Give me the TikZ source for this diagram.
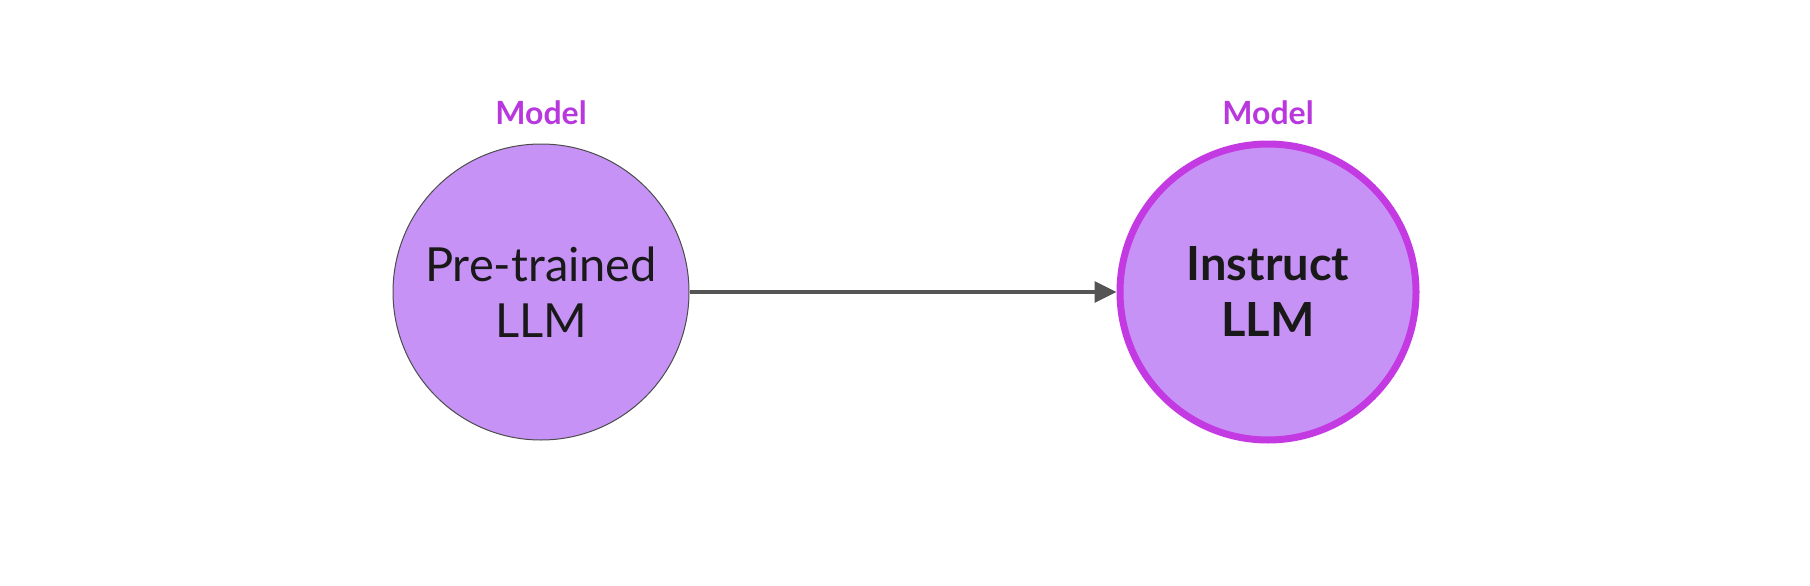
\documentclass[tikz,border=0pt]{standalone}
\usepackage{fontspec}
\setmainfont{Lato}
\usetikzlibrary{arrows.meta}
\definecolor{nodefill}{RGB}{199,146,245}
\definecolor{magborder}{RGB}{196,58,226}
\definecolor{labelcol}{RGB}{185,56,222}
\definecolor{arrowcol}{RGB}{85,85,85}
\tikzset{
  llm/.style={circle, fill=nodefill, minimum size=296pt, inner sep=0pt, align=center, font=\fontsize{47}{56}\selectfont, text=black!90},
  plainllm/.style={llm, draw=black!70, line width=1pt},
  instllm/.style={llm, draw=magborder, line width=7pt, font=\fontsize{47}{56}\selectfont\bfseries},
  modellabel/.style={font=\fontsize{32}{36}\selectfont\bfseries, text=labelcol},
  conn/.style={draw=arrowcol, line width=3.5pt, -{Triangle[length=22pt,width=21pt]}}
}
\begin{document}
\begin{tikzpicture}[x=1pt,y=1pt]
\useasboundingbox (0,0) rectangle (1810,-586);
\node[plainllm] (pre) at (541,-292) {Pre-trained\\LLM};
\node[instllm] (inst) at (1268,-292) {Instruct\\LLM};
\node[modellabel] (m1) at (541,-113) {Model};
\node[modellabel] (m2) at (1268,-113) {Model};
\draw[conn] (pre) -- (inst);
\end{tikzpicture}
\end{document}
